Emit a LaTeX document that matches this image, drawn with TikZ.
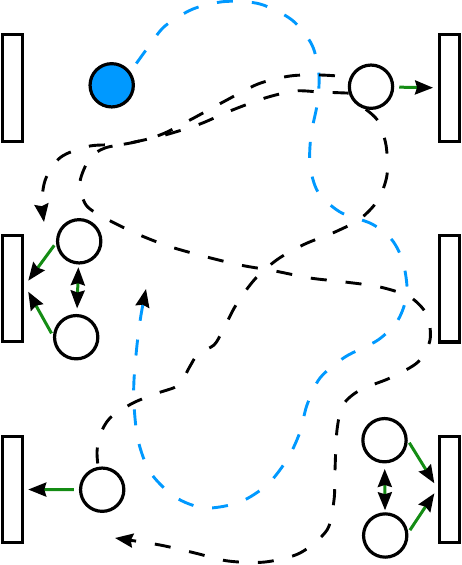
\documentclass[tikz,border=0pt]{standalone}
\usetikzlibrary{arrows.meta,calc}
\definecolor{azure}{RGB}{0,153,255}
\definecolor{grn}{RGB}{20,140,20}
\begin{document}
\begin{tikzpicture}[x=1pt,y=-1pt,
  place/.style={circle,draw,line width=3.2pt,minimum size=43.3pt,inner sep=0pt},
  bar/.style={rectangle,draw,line width=3.2pt,fill=white,minimum width=20.3pt,minimum height=106.3pt,inner sep=0pt},
  btip/.style={-{Stealth[color=black,length=18pt,width=14pt,inset=2pt]}},
  garrow/.style={grn,line width=3pt,-{Stealth[color=black,length=18pt,width=14pt,inset=2pt]}},
  gdouble/.style={grn,line width=3pt,{Stealth[color=black,length=18pt,width=14pt,inset=2pt]}-{Stealth[color=black,length=18pt,width=14pt,inset=2pt]}},
  bdash/.style={black,line width=2.9pt,dash pattern=on 16pt off 19pt},
  udash/.style={azure,line width=2.9pt,dash pattern=on 16pt off 19pt},
]
\useasboundingbox (0,0) rectangle (462,565);
% bars
\node[bar] (R1) at (12.5,88) {};
\node[bar] (R2) at (449.3,88) {};
\node[bar] (R3) at (12.5,288.3) {};
\node[bar] (R4) at (449.3,288.8) {};
\node[bar] (R5) at (12.5,489.5) {};
\node[bar] (R6) at (449.3,489.5) {};
% places
\node[place,fill=azure] (B) at (111.7,85.3) {};
\node[place] (T) at (371,86.7) {};
\node[place] (MU) at (79.2,241.3) {};
\node[place] (ML) at (76.2,337.2) {};
\node[place] (BL) at (102.2,489.7) {};
\node[place] (BU) at (384.5,440.2) {};
\node[place] (BD) at (385.2,535.5) {};
% green arrows
\draw[garrow,shorten <=5pt,shorten >=4.5pt] (T) -- (R2);
\draw[garrow,shorten <=3pt] (MU.184) -- ($(R3.east)+(4,-7.6)$);
\draw[garrow,shorten <=3pt] (ML.177) -- ($(R3.east)+(4,3.4)$);
\draw[gdouble,shorten <=2.7pt,shorten >=5.5pt] (MU) -- (ML);
\draw[garrow,shorten <=5pt,shorten >=4pt] (BL) -- (R5);
\draw[garrow,shorten <=3pt] (BU.0) -- ($(R6.west)+(-3.2,-6.2)$);
\draw[garrow,shorten <=3pt] (BD.7) -- ($(R6.west)+(-3.2,3.8)$);
\draw[gdouble,shorten <=5.5pt,shorten >=2pt] (BU) -- (BD);
% dashed curves
\draw[udash,btip,dash phase=25pt] plot[smooth] coordinates {(B.36) (149,46) (165,26) (193,9) (225,1.5) (260,4) (292,20) (312,45) (319,75) (317,105) (311,135) (310,165) (318,192) (340,212) (372,224) (392,240) (403,262) (407,293) (398,320) (378,340) (345,357) (320,378) (307,405) (300,432) (288,458) (268,484) (240,502) (205,508) (175,497) (150,472) (138,440) (134,405) (134,380) (137,345) (141,315) (146,289)};
\draw[bdash,btip,dash phase=20pt] plot[smooth] coordinates {(T.155) (320,75) (290,76) (258,84) (225,101) (190,120) (160,135) (125,144) (90,146) (61,157) (46,178) (42,200) (44,222)};
\draw[bdash,btip] plot[smooth] coordinates {(T.196) (320,92) (295,91) (265,98) (230,111) (200,124) (165,135) (130,143) (105,148) (90,158) (80,182) (86,205) (105,218) (135,233) (168,246) (203,256) (240,265) (275,271) (310,278) (345,282) (380,287) (410,297) (427,315) (430,340) (418,362) (390,378) (360,390) (343,405) (337,430) (335,470) (334,500) (327,530) (300,553) (265,562) (228,561) (195,553) (160,545) (115,538)};
\draw[bdash] plot[smooth] coordinates {(T.257) (378,121) (386,145) (387,175) (378,200) (360,219) (335,232) (305,244) (278,259) (255,279) (236,305) (223,330) (214,345) (198,354) (189,368) (179,385) (158,393) (133,403) (110,418) (100,435) (97,452) (BL.100)};
\end{tikzpicture}
\end{document}
